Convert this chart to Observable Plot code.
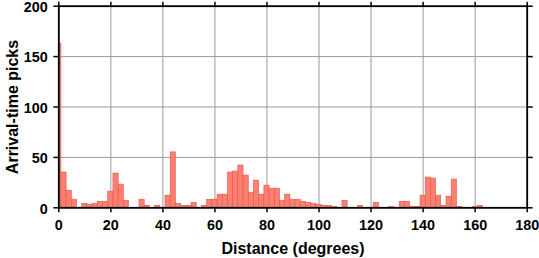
<!DOCTYPE html>
<html><head><meta charset="utf-8">
<script src="https://cdn.jsdelivr.net/npm/d3@7"></script>
<script src="https://cdn.jsdelivr.net/npm/@observablehq/plot@0.6"></script>
<style>html,body{margin:0;padding:0;background:#fff}</style>
</head><body><div id="chart"></div>
<script>
// Histogram bin centres (degrees) and pick counts
const binCenters = [0,2,4,6,8,10,12,14,16,18,20,22,24,26,28,30,32,34,36,38,40,42,44,46,48,50,52,54,56,58,60,62,64,66,68,70,72,74,76,78,80,82,84,86,88,90,92,94,96,98,100,102,104,106,108,110,112,114,116,118,120,122,124,126,128,130,132,134,136,138,140,142,144,146,148,150,152,154,156,158,160,162];
const picks = [163,35,17,8,0,4,3,4,6,6,16,34,23,7,0,0,8,2,0,2,0,12,55,4,2,2,5,0,2,8,8,13,13,35,36,42,32,15,27,13,22,19,19,7,13,8,8,6,5,4,3,2,2,1,0,7,0,0,2,0,0,5,0,0,1,0,6,6,1,1,12,30,29,12,2,11,28,1,0,0,1,2];
const binWidth = 2;
const xTicks = [0,20,40,60,80,100,120,140,160,180];
const yTicks = [0,50,100,150,200];
const xTitle = "Distance (degrees)";
const yTitle = "Arrival-time picks";

const bins = binCenters.map((c, i) => ({
  x1: Math.max(0, c - binWidth / 2),
  x2: c + binWidth / 2,
  n: picks[i]
})).filter(d => d.n > 0);

const font = "'Liberation Sans', Arial, Helvetica, sans-serif";
const chart = Plot.plot({
  width: 539, height: 258,
  marginLeft: 58.3, marginRight: 12.3, marginTop: 5.7, marginBottom: 50.7,
  style: {fontFamily: font, background: "#fff", overflow: "visible", color: "#000"},
  x: {domain: [0, 180]},
  y: {domain: [0, 200]},
  marks: [
    Plot.gridX(xTicks, {stroke: "#9a9a9a", strokeOpacity: 1, strokeWidth: 1}),
    Plot.gridY(yTicks, {stroke: "#9a9a9a", strokeOpacity: 1, strokeWidth: 1}),
    Plot.rectY(bins, {x1: "x1", x2: "x2", y: "n", fill: "#fa8072", stroke: "#ec5248", strokeWidth: 0.6}),
    Plot.frame({stroke: "#000", strokeWidth: 1.8}),
    Plot.axisX(xTicks, {anchor: "bottom", tickSize: 5, tickPadding: 6.5, fontSize: 14.4, fontWeight: "bold", label: null, strokeWidth: 1.5}),
    Plot.axisX(xTicks, {anchor: "top", tickSize: 5, tickFormat: () => "", label: null, strokeWidth: 1.5}),
    Plot.axisY(yTicks, {anchor: "left", tickSize: 5, tickFormat: () => "", label: null, strokeWidth: 1.5}),
    Plot.axisY(yTicks, {anchor: "left", tickSize: 0, tickPadding: 11, dy: 1.2, fontSize: 14.4, fontWeight: "bold", label: null}),
    Plot.axisY(yTicks, {anchor: "right", tickSize: 5, tickFormat: () => "", label: null, strokeWidth: 1.5}),
    Plot.text([xTitle], {frameAnchor: "bottom", dy: 46, lineAnchor: "bottom", fontSize: 16, fontWeight: "bold"}),
    Plot.text([yTitle], {frameAnchor: "left", dx: -46.3, rotate: -90, textAnchor: "middle", lineAnchor: "middle", fontSize: 16, fontWeight: "bold"})
  ]
});
document.getElementById("chart").appendChild(chart);
</script>
</body></html>
